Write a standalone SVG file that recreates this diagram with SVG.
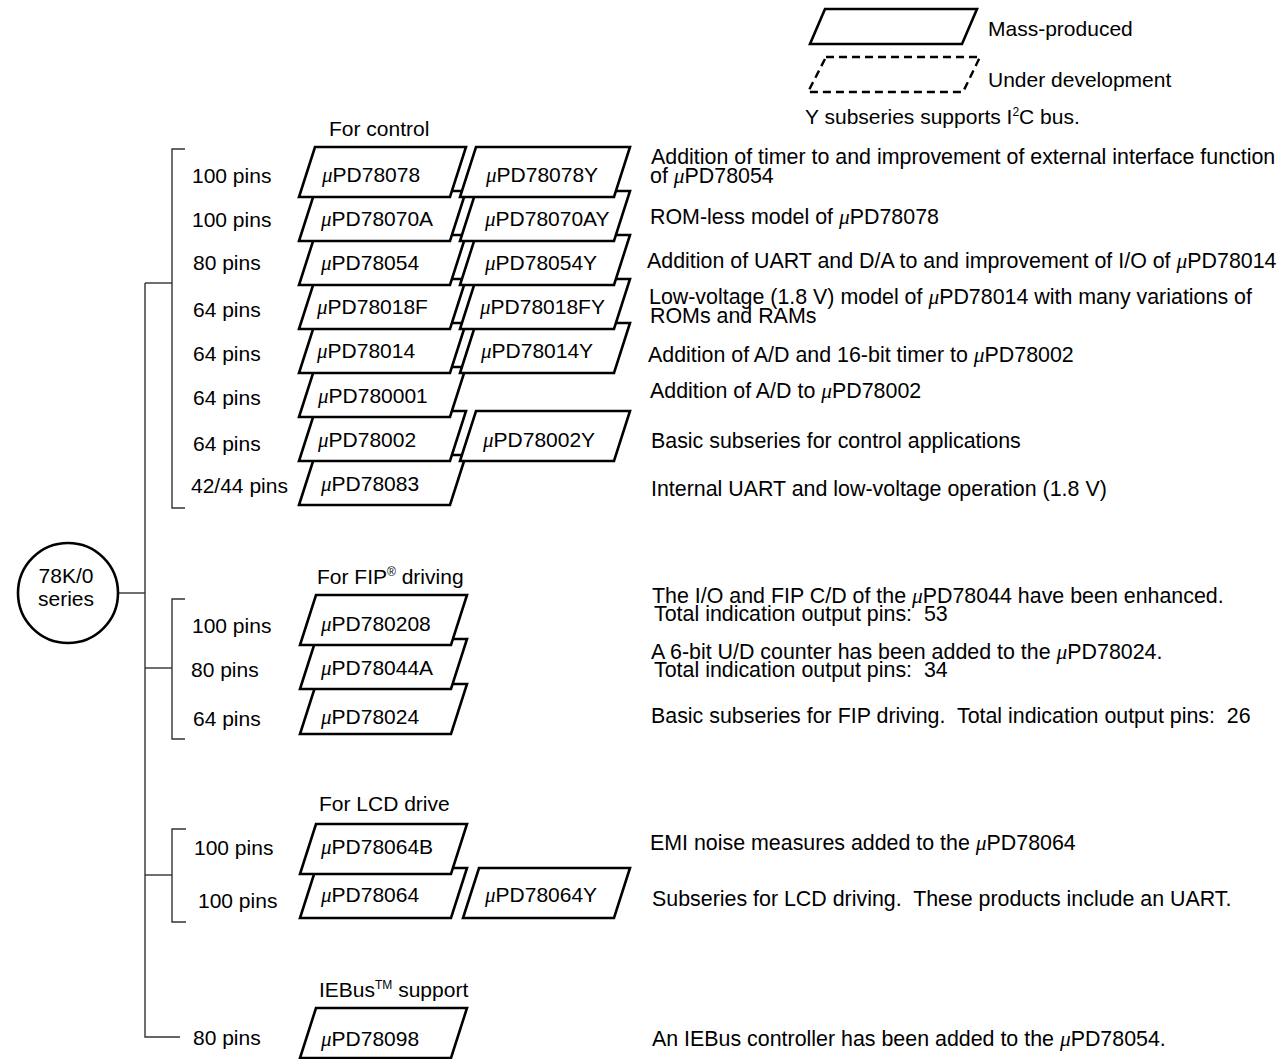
<svg xmlns="http://www.w3.org/2000/svg" width="1288" height="1059" viewBox="0 0 1288 1059">
<style>
text{font-family:"Liberation Sans",Arial,sans-serif;font-size:21px;fill:#000;white-space:pre}
text.d{font-size:21.4px}
.mu{font-family:"Liberation Serif","Times New Roman",serif;font-style:italic}
.box{fill:#fff;stroke:#000;stroke-width:2.6;stroke-linejoin:miter}
.dbox{fill:none;stroke:#000;stroke-width:2.4;stroke-dasharray:8 5}
.ln{fill:none;stroke:#333;stroke-width:1.4}
.sup{font-size:12px}
</style>
<rect width="1288" height="1059" fill="#fff"/>

<g id="legend">
<path class="box" d="M825,9 L977,9 L962,44 L810,44 Z"/>
<text x="988" y="36">Mass-produced</text>
<path class="dbox" d="M826,57 L980,57 L963,92 L808,92 Z"/>
<text x="988" y="87">Under development</text>
<text x="805" y="124">Y subseries supports I<tspan class="sup" dy="-8">2</tspan><tspan dy="8">C bus.</tspan></text>
</g>

<g id="connectors">
<path class="ln" d="M118,593 H145"/>
<path class="ln" d="M145,283 V1037 H180"/>
<path class="ln" d="M145,283 H172"/>
<path class="ln" d="M185,149 H172 V508 H185"/>
<path class="ln" d="M145,668 H172"/>
<path class="ln" d="M185,599 H172 V739 H185"/>
<path class="ln" d="M145,875 H172"/>
<path class="ln" d="M186,829 H172 V922 H186"/>
</g>

<g id="root">
<circle cx="68" cy="593" r="50" fill="#fff" stroke="#000" stroke-width="2.6"/>
<text x="66" y="583" text-anchor="middle">78K/0</text>
<text x="66" y="606" text-anchor="middle">series</text>
</g>

<text x="329" y="136">For control</text>
<g id="row8">
<text x="191" y="493">42/44 pins</text>
<path class="box" d="M315,455 L466,455 L450,505 L299,505 Z"/>
<text x="321" y="491"><tspan class="mu">μ</tspan>PD78083</text>
<text class="d" x="651" y="496">Internal UART and low-voltage operation (1.8 V)</text>
</g>
<g id="row7">
<text x="193" y="451">64 pins</text>
<path class="box" d="M315,411 L466,411 L450,461 L299,461 Z"/>
<text x="318" y="447"><tspan class="mu">μ</tspan>PD78002</text>
<path class="box" d="M476,411 L630,411 L614,461 L460,461 Z"/>
<text x="483" y="447"><tspan class="mu">μ</tspan>PD78002Y</text>
<text class="d" x="651" y="448">Basic subseries for control applications</text>
</g>
<g id="row6">
<text x="193" y="405">64 pins</text>
<path class="box" d="M315,367 L466,367 L450,417 L299,417 Z"/>
<text x="318" y="403"><tspan class="mu">μ</tspan>PD780001</text>
<text class="d" x="650" y="398">Addition of A/D to <tspan class="mu">μ</tspan>PD78002</text>
</g>
<g id="row5">
<text x="193" y="361">64 pins</text>
<path class="box" d="M315,323 L466,323 L450,373 L299,373 Z"/>
<text x="317" y="358"><tspan class="mu">μ</tspan>PD78014</text>
<path class="box" d="M476,323 L630,323 L614,373 L460,373 Z"/>
<text x="481" y="358"><tspan class="mu">μ</tspan>PD78014Y</text>
<text class="d" x="648" y="362">Addition of A/D and 16-bit timer to <tspan class="mu">μ</tspan>PD78002</text>
</g>
<g id="row4">
<text x="193" y="317">64 pins</text>
<path class="box" d="M315,279 L466,279 L450,329 L299,329 Z"/>
<text x="317" y="314"><tspan class="mu">μ</tspan>PD78018F</text>
<path class="box" d="M476,279 L630,279 L614,329 L460,329 Z"/>
<text x="480" y="314"><tspan class="mu">μ</tspan>PD78018FY</text>
<text class="d" x="649" y="304">Low-voltage (1.8 V) model of <tspan class="mu">μ</tspan>PD78014 with many variations of</text>
<text class="d" x="650" y="323">ROMs and RAMs</text>
</g>
<g id="row3">
<text x="193" y="270">80 pins</text>
<path class="box" d="M315,235 L466,235 L450,285 L299,285 Z"/>
<text x="321" y="270"><tspan class="mu">μ</tspan>PD78054</text>
<path class="box" d="M476,235 L630,235 L614,285 L460,285 Z"/>
<text x="485" y="270"><tspan class="mu">μ</tspan>PD78054Y</text>
<text class="d" x="647" y="268">Addition of UART and D/A to and improvement of I/O of <tspan class="mu">μ</tspan>PD78014</text>
</g>
<g id="row2">
<text x="192" y="227">100 pins</text>
<path class="box" d="M315,191 L466,191 L450,241 L299,241 Z"/>
<text x="321" y="226"><tspan class="mu">μ</tspan>PD78070A</text>
<path class="box" d="M476,191 L630,191 L614,241 L460,241 Z"/>
<text x="485" y="226"><tspan class="mu">μ</tspan>PD78070AY</text>
<text class="d" x="650" y="224">ROM-less model of <tspan class="mu">μ</tspan>PD78078</text>
</g>
<g id="row1">
<text x="192" y="183">100 pins</text>
<path class="box" d="M315,147 L466,147 L450,197 L299,197 Z"/>
<text x="322" y="182"><tspan class="mu">μ</tspan>PD78078</text>
<path class="box" d="M476,147 L630,147 L614,197 L460,197 Z"/>
<text x="486" y="182"><tspan class="mu">μ</tspan>PD78078Y</text>
<text class="d" x="651" y="164">Addition of timer to and improvement of external interface function</text>
<text class="d" x="650" y="183">of <tspan class="mu">μ</tspan>PD78054</text>
</g>

<text x="317" y="584">For FIP<tspan class="sup" dy="-8">®</tspan><tspan dy="8"> driving</tspan></text>
<g id="fip3">
<text x="193" y="726">64 pins</text>
<path class="box" d="M316,684 L467,684 L451,734 L300,734 Z"/>
<text x="321" y="724"><tspan class="mu">μ</tspan>PD78024</text>
<text class="d" x="651" y="723">Basic subseries for FIP driving.  Total indication output pins:  26</text>
</g>
<g id="fip2">
<text x="191" y="677">80 pins</text>
<path class="box" d="M316,639 L467,639 L451,689 L300,689 Z"/>
<text x="321" y="675"><tspan class="mu">μ</tspan>PD78044A</text>
<text class="d" x="651" y="659">A 6-bit U/D counter has been added to the <tspan class="mu">μ</tspan>PD78024.</text>
<text class="d" x="654" y="677">Total indication output pins:  34</text>
</g>
<g id="fip1">
<text x="192" y="633">100 pins</text>
<path class="box" d="M316,595 L467,595 L451,645 L300,645 Z"/>
<text x="321" y="631"><tspan class="mu">μ</tspan>PD780208</text>
<text class="d" x="652" y="603">The I/O and FIP C/D of the <tspan class="mu">μ</tspan>PD78044 have been enhanced.</text>
<text class="d" x="654" y="621">Total indication output pins:  53</text>
</g>

<text x="319" y="811">For LCD drive</text>
<g id="lcd2">
<text x="198" y="908">100 pins</text>
<path class="box" d="M316,868 L467,868 L451,918 L300,918 Z"/>
<text x="321" y="902"><tspan class="mu">μ</tspan>PD78064</text>
<path class="box" d="M479,868 L630,868 L614,918 L463,918 Z"/>
<text x="485" y="902"><tspan class="mu">μ</tspan>PD78064Y</text>
<text class="d" x="652" y="906">Subseries for LCD driving.  These products include an UART.</text>
</g>
<g id="lcd1">
<text x="194" y="855">100 pins</text>
<path class="box" d="M316,824 L467,824 L451,874 L300,874 Z"/>
<text x="321" y="854"><tspan class="mu">μ</tspan>PD78064B</text>
<text class="d" x="650" y="850">EMI noise measures added to the <tspan class="mu">μ</tspan>PD78064</text>
</g>

<text x="319" y="997">IEBus<tspan class="sup" dy="-8">TM</tspan><tspan dy="8"> support</tspan></text>
<g id="iebus1">
<text x="193" y="1045">80 pins</text>
<path class="box" d="M316,1008 L467,1008 L451,1058 L300,1058 Z"/>
<text x="321" y="1046"><tspan class="mu">μ</tspan>PD78098</text>
<text class="d" x="652" y="1046">An IEBus controller has been added to the <tspan class="mu">μ</tspan>PD78054.</text>
</g>
</svg>
